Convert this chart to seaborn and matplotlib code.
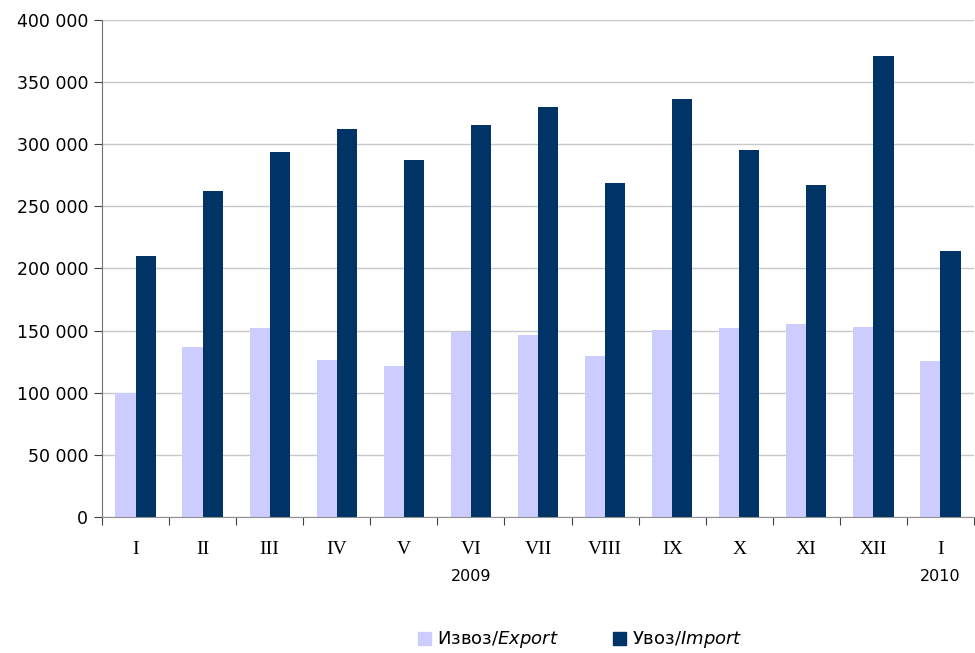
import pandas as pd
import matplotlib.pyplot as plt
import seaborn as sns
from matplotlib.patches import Patch

# Monthly values, 2009-I .. 2010-I
months = ['I', 'II', 'III', 'IV', 'V', 'VI', 'VII', 'VIII', 'IX', 'X', 'XI', 'XII', 'I ']
export = [99500, 136800, 152100, 126400, 121500, 148900, 146500, 129600, 150500, 152100, 155300, 152900, 125500]
imports = [210000, 262400, 293800, 312300, 287300, 315500, 330000, 268800, 336400, 295400, 267200, 371000, 214100]
series_names = ['Извоз/$\\it{Export}$', 'Увоз/$\\it{Import}$']
colors = ['#CCCCFF', '#003366']

df = pd.DataFrame({'Month': months * 2,
                   'Value': export + imports,
                   'Series': [series_names[0]] * len(months) + [series_names[1]] * len(months)})

sns.set_style('white')
plt.rcParams['font.family'] = ['DejaVu Sans']
plt.rcParams['text.color'] = 'black'

fig = plt.figure(figsize=(9.75, 6.53), dpi=100)
ax = fig.add_axes([0.1046, 0.2083, 0.8944, 0.7611])

sns.barplot(data=df, x='Month', y='Value', hue='Series', order=months,
            palette=colors, width=0.6, saturation=1, linewidth=0,
            ax=ax, legend=False, zorder=2)

ax.set_ylim(0, 400000)
ax.set_xlim(-0.5, len(months) - 0.5)
yt = list(range(0, 400001, 50000))
ax.set_yticks(yt)
ax.set_yticklabels([f'{v:,}'.replace(',', ' ') for v in yt], fontsize=12.5, color='black')
ax.yaxis.grid(True, color='#c8c8c8', linewidth=1, zorder=0)
ax.set_axisbelow(True)

# category boundary ticks, labels at centers
ax.set_xticks([i - 0.5 for i in range(len(months) + 1)])
ax.set_xticklabels([])
ax.set_xticks(range(len(months)), minor=True)
ax.set_xticklabels([m.strip() for m in months], minor=True,
                   fontsize=14, family='Liberation Serif', color='black')
ax.tick_params(axis='x', which='minor', length=0, pad=17)
ax.tick_params(axis='x', which='major', length=6, direction='out', color='#404040', bottom=True)
ax.tick_params(axis='y', length=6, direction='out', color='#404040', left=True, pad=4)

ax.set_xlabel('')
ax.set_ylabel('')
for s in ['top', 'right']:
    ax.spines[s].set_visible(False)
ax.spines['left'].set_color('#707070')
ax.spines['bottom'].set_color('#909090')

ax.text(5, -0.12, '2009', transform=ax.get_xaxis_transform(), ha='center', va='center', fontsize=11.5)
ax.text(12, -0.12, '2010', transform=ax.get_xaxis_transform(), ha='center', va='center', fontsize=11.5)

handles = [Patch(color=c) for c in colors]
fig.legend(handles, series_names, loc='center', bbox_to_anchor=(0.595, 0.02), ncol=2,
           frameon=False, fontsize=13, handlelength=0.75, handleheight=0.75,
           handletextpad=0.3, columnspacing=3)

fig.savefig('out.png', dpi=100)
